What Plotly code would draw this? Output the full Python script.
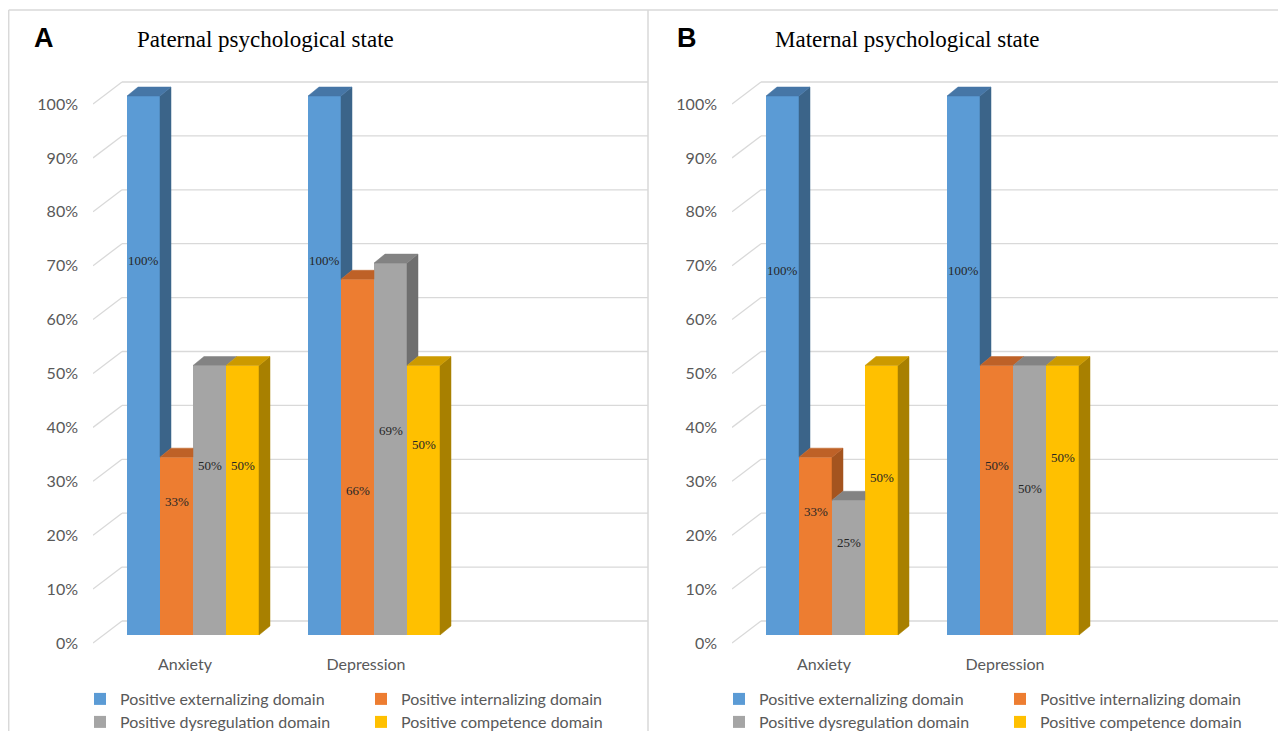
import plotly.graph_objects as go

# ---------------- data ----------------
categories = ["Anxiety", "Depression"]
series_names = ["Positive externalizing domain", "Positive internalizing domain",
                "Positive dysregulation domain", "Positive competence domain"]

pat_externalizing = [100, 100]
pat_internalizing = [33, 66]
pat_dysregulation = [50, 69]
pat_competence = [50, 50]

mat_externalizing = [100, 100]
mat_internalizing = [33, 50]
mat_dysregulation = [25, 50]
mat_competence = [50, 50]

y_ticks = [0, 10, 20, 30, 40, 50, 60, 70, 80, 90, 100]
y_tick_text = ["0%", "10%", "20%", "30%", "40%", "50%", "60%", "70%", "80%", "90%", "100%"]

# data-label heights (layout only, in % units), per series per category
pat_label_y = [[69.4, 69.4], [24.7, 26.9], [31.4, 38.0], [31.4, 35.4]]
mat_label_y = [[67.7, 67.7], [23.0, 31.4], [17.1, 27.1], [29.3, 33.0]]

# ---------------- styles ----------------
front_colors = ["#5B9BD5", "#ED7D31", "#A5A5A5", "#FFC000"]
top_colors = ["#4676A6", "#BE6127", "#838383", "#CC9A00"]
side_colors = ["#3B6489", "#A4541F", "#6F6F6F", "#A88000"]
grid_color = "#D9D9D9"
label_color = "#595959"
sans = "Lato, 'Liberation Sans', Arial, sans-serif"
serif = "'Liberation Serif', 'Times New Roman', serif"

# page body has an 8px margin; figure fills the rest of the 1286x731 window
OFF = 8
FW, FH = 1286 - OFF, 731 - OFF

def px_x(p):
    return (p - OFF) / FW

def px_y(p):
    return 1 - (p - OFF) / FH

PX_PCT = 5.39      # pixels per percent on the front plane
Y0_PX = 635        # window row of 0% on front plane
UNIT = 181.0       # pixels per category
BAR_W = 33 / UNIT
DX = 11 / UNIT     # depth offset, x units
DY = 9 / PX_PCT    # depth offset, % units
LABEL_SHIFT = 8 / PX_PCT
BACK_SHIFT = 14 / PX_PCT
BACK_DX = 29 / UNIT

def v_of_px(p):
    return (Y0_PX - p) / PX_PCT

y_dom = [px_y(645), px_y(70)]
y_rng = [v_of_px(645), v_of_px(70)]

panels = [
    dict(name="A", title="Paternal psychological state",
         data=[pat_externalizing, pat_internalizing, pat_dysregulation, pat_competence],
         labels=pat_label_y, left=93, right=648, c0=193, letter_x=32, title_x=135,
         xa="x", ya="y", legends=("legend", "legend2"), leg_x=80),
    dict(name="B", title="Maternal psychological state",
         data=[mat_externalizing, mat_internalizing, mat_dysregulation, mat_competence],
         labels=mat_label_y, left=732, right=1286, c0=832, letter_x=675, title_x=773,
         xa="x2", ya="y2", legends=("legend3", "legend4"), leg_x=719),
]

fig = go.Figure()
shapes = []
annotations = []

for p in panels:
    xr0 = (p["left"] - p["c0"]) / UNIT
    xr1 = (p["right"] - p["c0"]) / UNIT
    p["xrange"] = [xr0, xr1]
    vals = p["data"]
    n = len(vals)
    # front faces as bars
    for i, (nm, v) in enumerate(zip(series_names, vals)):
        xs = [g + (i - (n - 1) / 2) * BAR_W for g in range(len(categories))]
        fig.add_trace(go.Bar(
            x=xs, y=v, width=BAR_W, name=nm, marker=dict(color=front_colors[i], line=dict(width=0)),
            xaxis=p["xa"], yaxis=p["ya"], legend=p["legends"][i // 2],
            hovertemplate="%{y}%<extra>" + nm + "</extra>",
        ))
        for g, (xc, val) in enumerate(zip(xs, v)):
            annotations.append(dict(
                x=xc, y=p["labels"][i][g], xref=p["xa"], yref=p["ya"], text=f"{val}%",
                showarrow=False, font=dict(family=serif, size=13, color="#262626")))
    # depth faces (side + top), painted with occlusion by the next bar
    for i in range(n):
        side_x, side_y, top_x, top_y = [], [], [], []
        for g in range(len(categories)):
            vi = vals[i][g]
            xl = g + (i - n / 2) * BAR_W
            xr = xl + BAR_W
            vj = vals[i + 1][g] if i + 1 < n else 0
            if vi > vj:
                side_x += [xr, xr + DX, xr + DX, xr, xr, None]
                side_y += [vj, vj + DY, vi + DY, vi, vj, None]
            c = min(max(vj, vi), vi + DY) if i + 1 < n else vi
            e = (vi + DY - c) * DX / DY
            top_x += [xl, xl + DX, xr + e, xr, xr, xl, None]
            top_y += [vi, vi + DY, vi + DY, c, vi, vi, None]
        for xs_, ys_, col in ((side_x, side_y, side_colors[i]), (top_x, top_y, top_colors[i])):
            if xs_:
                fig.add_trace(go.Scatter(
                    x=xs_, y=ys_, mode="lines", fill="toself", fillcolor=col,
                    line=dict(width=0.5, color=col), hoverinfo="skip", showlegend=False,
                    xaxis=p["xa"], yaxis=p["ya"]))
    # back-wall gridlines and diagonal connectors
    for t in y_ticks:
        shapes.append(dict(type="line", xref=p["xa"], yref=p["ya"], layer="below",
                           x0=xr0, y0=t - LABEL_SHIFT, x1=xr0 + BACK_DX, y1=t + BACK_SHIFT,
                           line=dict(color=grid_color, width=1.3)))
        shapes.append(dict(type="line", xref=p["xa"], yref=p["ya"], layer="below",
                           x0=xr0 + BACK_DX, y0=t + BACK_SHIFT, x1=xr1, y1=t + BACK_SHIFT,
                           line=dict(color=grid_color, width=1.3)))
    # panel letter and title
    annotations.append(dict(x=px_x(p["letter_x"]), y=px_y(38), xref="paper", yref="paper",
                            xanchor="left", yanchor="middle", text=f"<b>{p['name']}</b>",
                            showarrow=False, font=dict(family="Liberation Sans, Arial", size=27, color="black")))
    annotations.append(dict(x=px_x(p["title_x"]), y=px_y(40), xref="paper", yref="paper",
                            xanchor="left", yanchor="middle", text=p["title"],
                            showarrow=False, font=dict(family=serif, size=23, color="black")))

# panel frame lines
frame = dict(color=grid_color, width=1.5)
shapes.append(dict(type="line", xref="paper", yref="paper", x0=px_x(8.7), x1=1, y0=px_y(10), y1=px_y(10), line=frame))
shapes.append(dict(type="line", xref="paper", yref="paper", x0=px_x(8.7), x1=px_x(8.7), y0=0, y1=px_y(10), line=frame))
shapes.append(dict(type="line", xref="paper", yref="paper", x0=px_x(648), x1=px_x(648), y0=0, y1=px_y(10), line=frame))

def xaxis_cfg(p):
    return dict(domain=[px_x(p["left"]), min(1.0, px_x(p["right"]))], range=p["xrange"], showgrid=False,
                zeroline=False, showline=False, ticks="", tickvals=[0, 1], ticktext=categories,
                tickfont=dict(family=sans, size=16, color=label_color),
                ticklabelshift=-8, ticklabelstandoff=8, fixedrange=True)

def yaxis_cfg(anchor):
    return dict(domain=y_dom, range=y_rng, showgrid=False, zeroline=False, showline=False,
                ticks="", tickvals=y_ticks, ticktext=y_tick_text, anchor=anchor,
                tickfont=dict(family=sans, size=16, color=label_color),
                ticklabelshift=8, ticklabelstandoff=14, fixedrange=True)

leg_common = dict(orientation="h", xanchor="left", yanchor="middle", entrywidth=236,
                  entrywidthmode="pixels", bgcolor="rgba(0,0,0,0)", itemclick=False,
                  itemdoubleclick=False, font=dict(family=sans, size=16, color=label_color))

fig.update_layout(
    width=FW, height=FH, margin=dict(l=0, r=0, t=0, b=0, autoexpand=False),
    paper_bgcolor="white", plot_bgcolor="white", barmode="overlay", showlegend=True,
    xaxis=dict(xaxis_cfg(panels[0]), anchor="y"),
    yaxis=yaxis_cfg("x"),
    xaxis2=dict(xaxis_cfg(panels[1]), anchor="y2"),
    yaxis2=yaxis_cfg("x2"),
    legend=dict(leg_common, x=px_x(panels[0]["leg_x"]), y=px_y(699)),
    legend2=dict(leg_common, x=px_x(panels[0]["leg_x"]), y=px_y(722)),
    legend3=dict(leg_common, x=px_x(panels[1]["leg_x"]), y=px_y(699)),
    legend4=dict(leg_common, x=px_x(panels[1]["leg_x"]), y=px_y(722)),
    shapes=shapes, annotations=annotations,
)

fig.write_html("out.html")
